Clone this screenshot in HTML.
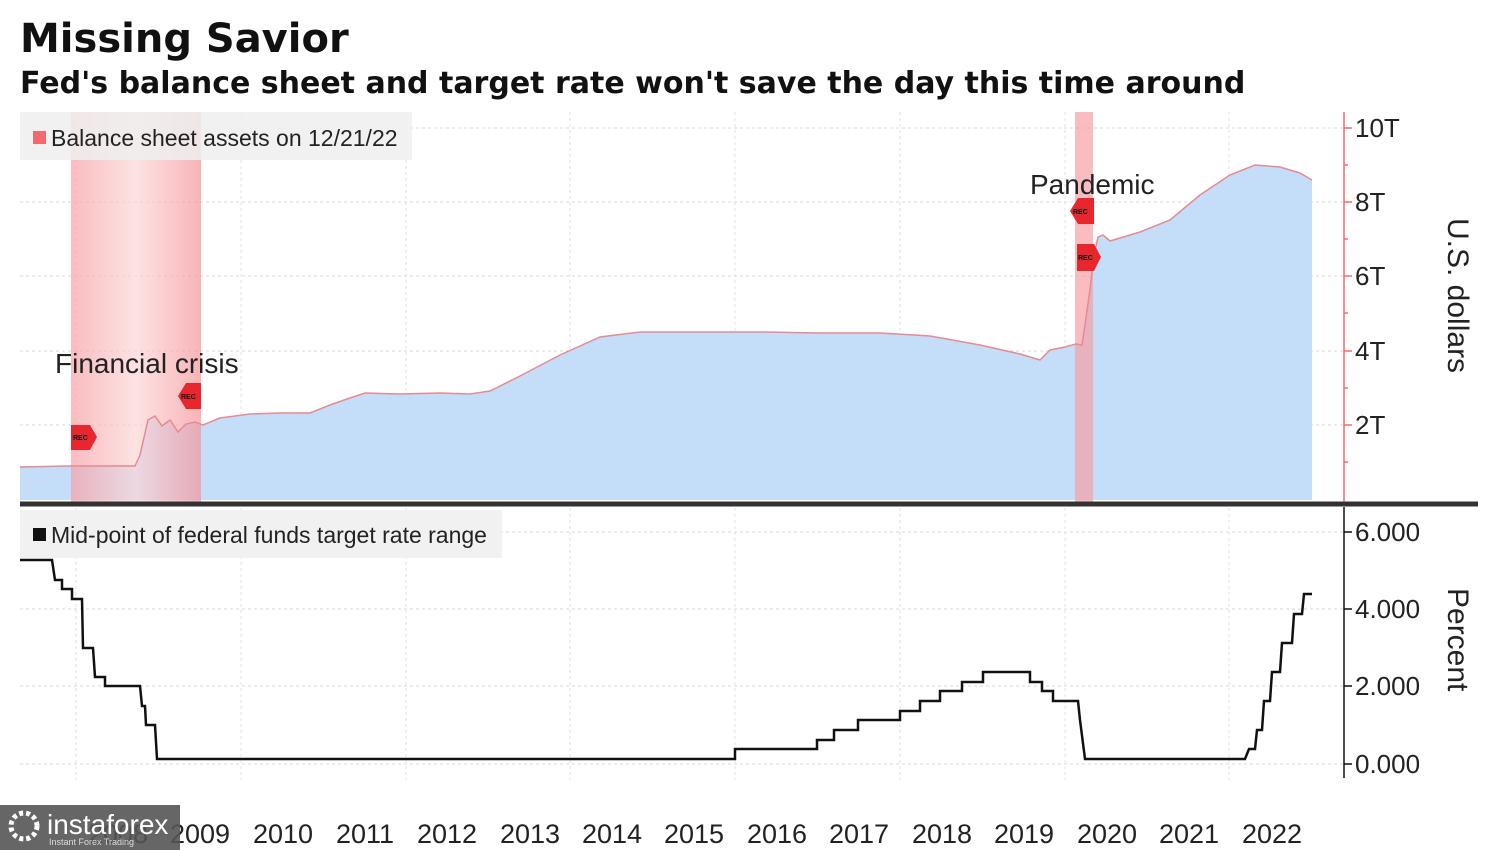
<!DOCTYPE html>
<html><head><meta charset="utf-8"><style>
html,body{margin:0;padding:0;background:#fff;width:1500px;height:850px;overflow:hidden}
svg text{font-family:"Liberation Sans","DejaVu Sans",sans-serif}
</style></head><body>
<svg width="1500" height="850" viewBox="0 0 1500 850" xmlns="http://www.w3.org/2000/svg">
<defs>
<linearGradient id="rg" x1="0" x2="1" y1="0" y2="0">
<stop offset="0" stop-color="#f7a0a4"/><stop offset="0.5" stop-color="#fcd6d8"/><stop offset="1" stop-color="#f49499"/>
</linearGradient>
</defs>
<text x="20" y="52" font-size="40" font-weight="bold" fill="#111" style="font-family:'DejaVu Sans',sans-serif">Missing Savior</text>
<text x="20" y="93" font-size="30" font-weight="bold" fill="#111" style="font-family:'DejaVu Sans',sans-serif">Fed's balance sheet and target rate won't save the day this time around</text>

<g stroke="#d8d8d8" stroke-dasharray="3,3" stroke-width="1">
<line x1="20" y1="128" x2="1344" y2="128"/><line x1="20" y1="202" x2="1344" y2="202"/>
<line x1="20" y1="276" x2="1344" y2="276"/><line x1="20" y1="351" x2="1344" y2="351"/>
<line x1="20" y1="425" x2="1344" y2="425"/>
<line x1="20" y1="532" x2="1344" y2="532"/><line x1="20" y1="609" x2="1344" y2="609"/>
<line x1="20" y1="686" x2="1344" y2="686"/><line x1="20" y1="764" x2="1344" y2="764"/>
</g>
<g stroke="#e2e2ea" stroke-dasharray="3,3" stroke-width="1">
<line x1="76" y1="112" x2="76" y2="780"/><line x1="241" y1="112" x2="241" y2="780"/>
<line x1="406" y1="112" x2="406" y2="780"/><line x1="570" y1="112" x2="570" y2="780"/>
<line x1="735" y1="112" x2="735" y2="780"/><line x1="900" y1="112" x2="900" y2="780"/>
<line x1="1065" y1="112" x2="1065" y2="780"/><line x1="1229" y1="112" x2="1229" y2="780"/>
</g>

<path d="M20,467 L70,466 L135,466 L140,455 L148,420 L155,416 L162,426 L170,420 L178,432 L186,424 L195,422 L203,425 L220,418 L250,414 L280,413 L310,413 L330,405 L350,398 L365,393 L400,394 L440,393 L470,394 L490,391 L520,376 L560,355 L600,337 L640,332 L700,332 L760,332 L820,333 L880,333 L930,336 L980,345 L1020,354 L1040,360 L1050,350 L1065,347 L1076,344 L1082,345 L1090,290 L1094,255 L1098,237 L1103,235 L1110,241 L1140,232 L1170,220 L1200,195 L1230,175 L1255,165 L1280,167 L1300,173 L1312,180 L1312,500 L20,500 Z" fill="#c4def9"/>

<rect x="71" y="112" width="130" height="390" fill="url(#rg)" opacity="0.7"/>
<rect x="1075" y="112" width="18" height="390" fill="#f6a0a5" opacity="0.7"/>

<path d="M20,467 L70,466 L135,466 L140,455 L148,420 L155,416 L162,426 L170,420 L178,432 L186,424 L195,422 L203,425 L220,418 L250,414 L280,413 L310,413 L330,405 L350,398 L365,393 L400,394 L440,393 L470,394 L490,391 L520,376 L560,355 L600,337 L640,332 L700,332 L760,332 L820,333 L880,333 L930,336 L980,345 L1020,354 L1040,360 L1050,350 L1065,347 L1076,344 L1082,345 L1090,290 L1094,255 L1098,237 L1103,235 L1110,241 L1140,232 L1170,220 L1200,195 L1230,175 L1255,165 L1280,167 L1300,173 L1312,180" fill="none" stroke="#e88a90" stroke-width="1.5"/>

<g font-size="7" font-weight="bold" fill="#111">
<path d="M71,425 L90,425 L97,437 L90,450 L71,450 Z" fill="#e8262e"/><text x="73" y="440">REC</text>
<path d="M201,383 L186,383 L178,396 L186,409 L201,409 Z" fill="#e8262e"/><text x="181" y="399">REC</text>
<path d="M1094,198 L1078,198 L1070,211 L1078,224 L1094,224 Z" fill="#e8262e"/><text x="1073" y="214">REC</text>
<path d="M1077,244 L1094,244 L1101,257 L1094,271 L1077,271 Z" fill="#e8262e"/><text x="1078" y="260">REC</text>
</g>
<text x="55" y="373" font-size="28" fill="#222">Financial crisis</text>
<text x="1030" y="194" font-size="28" fill="#222">Pandemic</text>

<rect x="20" y="112" width="392" height="48" fill="#eeeeee" opacity="0.85"/>
<rect x="33" y="131" width="13" height="13" fill="#f26a70"/>
<text x="51" y="146" font-size="23" fill="#222">Balance sheet assets on 12/21/22</text>
<rect x="20" y="510" width="482" height="48" fill="#f0f0f0" opacity="0.9"/>
<rect x="33" y="528" width="13" height="13" fill="#111"/>
<text x="51" y="543" font-size="23" fill="#222">Mid-point of federal funds target rate range</text>

<line x1="1344" y1="112" x2="1344" y2="502" stroke="#f26a70" stroke-width="1.5"/>
<g stroke="#f26a70" stroke-width="1.5">
<line x1="1344" y1="128" x2="1352" y2="128"/><line x1="1344" y1="202" x2="1352" y2="202"/>
<line x1="1344" y1="276" x2="1352" y2="276"/><line x1="1344" y1="351" x2="1352" y2="351"/>
<line x1="1344" y1="425" x2="1352" y2="425"/>
<line x1="1344" y1="165" x2="1348" y2="165"/><line x1="1344" y1="239" x2="1348" y2="239"/>
<line x1="1344" y1="313" x2="1348" y2="313"/><line x1="1344" y1="388" x2="1348" y2="388"/><line x1="1344" y1="462" x2="1348" y2="462"/>
</g>
<g font-size="26" fill="#222">
<text x="1355" y="137">10T</text><text x="1355" y="211">8T</text><text x="1355" y="285">6T</text>
<text x="1355" y="360">4T</text><text x="1355" y="434">2T</text>
</g>
<text transform="translate(1448,218) rotate(90)" font-size="30" fill="#222">U.S. dollars</text>

<line x1="20" y1="504" x2="1478" y2="504" stroke="#333" stroke-width="5"/>

<line x1="1344" y1="507" x2="1344" y2="778" stroke="#111" stroke-width="1.5"/>
<g stroke="#111" stroke-width="1.5">
<line x1="1344" y1="532" x2="1352" y2="532"/><line x1="1344" y1="609" x2="1352" y2="609"/>
<line x1="1344" y1="686" x2="1352" y2="686"/><line x1="1344" y1="764" x2="1352" y2="764"/>
</g>
<g font-size="26" fill="#222">
<text x="1355" y="541">6.000</text><text x="1355" y="618">4.000</text>
<text x="1355" y="695">2.000</text><text x="1355" y="773">0.000</text>
</g>
<text transform="translate(1448,588) rotate(90)" font-size="30" fill="#222">Percent</text>

<path d="M20,560 L52,560 L55,580 L62,580 L62,589 L72,589 L72,599 L82,599 L83,648 L93,648 L95,677 L105,677 L105,686 L140,686 L142,706 L145,706 L146,725 L155,725 L157,759 L735,759 L735,749 L817,749 L817,740 L834,740 L834,730 L858,730 L858,720 L900,720 L900,711 L920,711 L920,701 L940,701 L940,691 L962,691 L962,682 L983,682 L983,672 L1030,672 L1030,682 L1042,682 L1042,691 L1053,691 L1053,701 L1078,701 L1080,720 L1085,759 L1245,759 L1249,749 L1255,749 L1257,730 L1262,730 L1264,701 L1270,701 L1272,672 L1280,672 L1282,643 L1292,643 L1294,614 L1302,614 L1304,594 L1312,594" fill="none" stroke="#111" stroke-width="2.5"/>

<g font-size="27" fill="#222" text-anchor="middle">
<text x="118" y="843">2008</text><text x="200" y="843">2009</text><text x="283" y="843">2010</text>
<text x="365" y="843">2011</text><text x="447" y="843">2012</text><text x="530" y="843">2013</text>
<text x="612" y="843">2014</text><text x="694" y="843">2015</text><text x="777" y="843">2016</text>
<text x="859" y="843">2017</text><text x="942" y="843">2018</text><text x="1024" y="843">2019</text>
<text x="1107" y="843">2020</text><text x="1189" y="843">2021</text><text x="1272" y="843">2022</text>
</g>

<rect x="0" y="805" width="180" height="45" fill="#555" opacity="0.9"/>
<circle cx="24" cy="826" r="13" fill="none" stroke="#fff" stroke-width="5" stroke-dasharray="4,3"/>
<text x="47" y="834" font-size="28" fill="#fff">instaforex</text>
<text x="49" y="845" font-size="9" fill="#ddd">Instant Forex Trading</text>
</svg>
</body></html>
